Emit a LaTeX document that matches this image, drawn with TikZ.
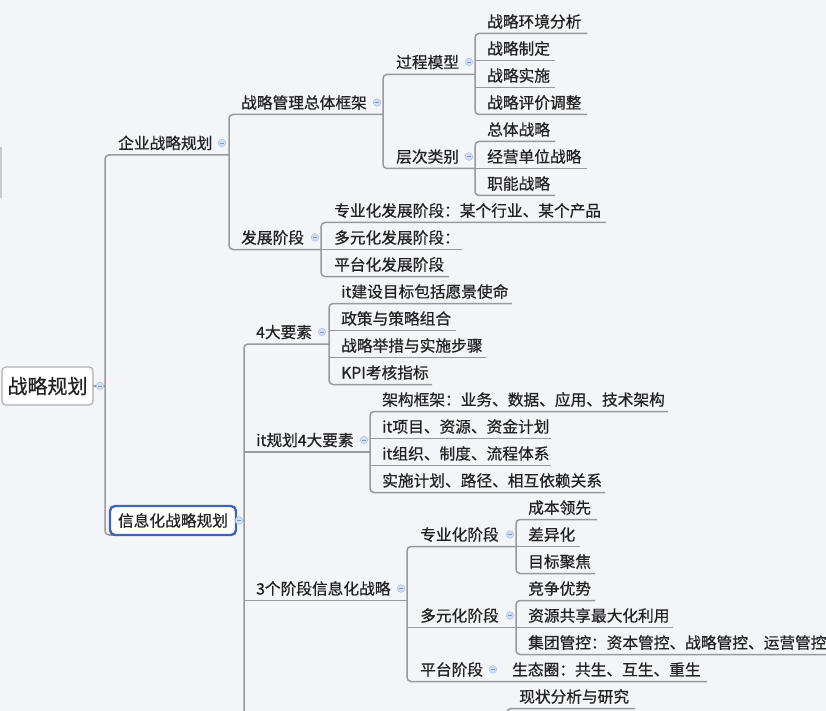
\documentclass[tikz,border=0pt]{standalone}
\usepackage{fontspec}
\setmainfont{Noto Sans CJK SC}[FakeBold=0.6]
\definecolor{bg}{RGB}{244,245,249}
\definecolor{ln}{RGB}{152,152,158}
\definecolor{tx}{RGB}{34,34,34}
\definecolor{icf}{RGB}{210,223,243}
\definecolor{icd}{RGB}{176,198,232}
\definecolor{icm}{RGB}{120,150,205}
\definecolor{selb}{RGB}{62,100,178}
\definecolor{rootb}{RGB}{175,175,180}
\definecolor{edgec}{RGB}{200,200,206}
\newcommand\mmleaf[4]{\node[lbl] (#1) at (#2,27.5+27*#3) {#4};}
\newcommand\mmtopic[4]{\node[lbl] (#1) at (#2,#3+6) {#4};}
\newcommand\mmicon[2]{\fill[icf,draw=icd,line width=0.6pt] (#1,#2) circle (3.8pt);
  \draw[icm,line width=0.9pt] (#1-2.2,#2) -- (#1+2.2,#2);}
\begin{document}
\begin{tikzpicture}[x=1pt,y=-1pt,
  br/.style={draw=ln,line width=1.5pt,rounded corners=4pt},
  lbl/.style={anchor=base west,inner sep=0pt,text=tx,font=\fontsize{15.7pt}{18pt}\selectfont}]
\useasboundingbox (0,0) rectangle (826,711);
\clip (0,0) rectangle (826,711);
\fill[bg] (0,0) rectangle (826,711);
\draw[edgec,line width=1.5pt] (0.8,147) -- (0.8,198);

% ---------- connectors ----------
% root level
\draw[br] (229,155) -- (105,155) -- (105,535) -- (118,535);
\draw[br] (93,386) -- (105,386);
% enterprise branch
\draw[br] (383,114.5) -- (229,114.5) -- (229,249.5) -- (321,249.5);
\draw[br] (475,74.5) -- (383,74.5) -- (383,168.5) -- (475,168.5);
\draw[br] (587,33.5) -- (475,33.5) -- (475,114.5) -- (587,114.5);
\draw[br] (475,60.5) -- (555,60.5);
\draw[br] (475,87.5) -- (555,87.5);
\draw[br] (555,141.5) -- (475,141.5) -- (475,195.5) -- (555,195.5);
\draw[br] (475,168.5) -- (587,168.5);
\draw[br] (606,222.5) -- (321,222.5) -- (321,276.5) -- (449,276.5);
\draw[br] (321,249.5) -- (462,249.5);
% information branch
\draw[br] (236,520.5) -- (244,520.5);
\draw[br] (329,344) -- (244,344) -- (244,730);
\draw[br] (244,452) -- (370,452);
\draw[br] (244,600.5) -- (407,600.5);
\draw[br] (512,303.5) -- (329,303.5) -- (329,384.5) -- (432,384.5);
\draw[br] (329,330.5) -- (456,330.5);
\draw[br] (329,357.5) -- (486,357.5);
\draw[br] (668,411.5) -- (370,411.5) -- (370,492.5) -- (605,492.5);
\draw[br] (370,438.5) -- (551,438.5);
\draw[br] (370,465.5) -- (551,465.5);
\draw[br] (516,546.5) -- (407,546.5) -- (407,681.5) -- (707,681.5);
\draw[br] (407,627.5) -- (516,627.5);
\draw[br] (597,519.5) -- (516,519.5) -- (516,573.5) -- (595,573.5);
\draw[br] (516,546.5) -- (580,546.5);
\draw[br] (595,600.5) -- (516,600.5) -- (516,654.5) -- (850,654.5);
\draw[br] (516,627.5) -- (673,627.5);
\draw[br] (635,708.5) -- (507,708.5) -- (507,730);

% ---------- boxes ----------
\node[draw=rootb,fill=white,rounded corners=4pt,line width=1.2pt,
  minimum width=91pt,minimum height=38pt,inner sep=0pt,text=tx,
  font=\fontsize{20pt}{24pt}\selectfont] (root) at (47.5,386) {战略规划};
\node[draw=selb,fill=white,rounded corners=5pt,line width=2.4pt,
  minimum width=126pt,minimum height=29pt,inner sep=0pt,text=tx,
  font=\fontsize{15.7pt}{18pt}\selectfont] (info) at (173,520.5) {信息化战略规划};

% ---------- topics ----------
\mmtopic{ent}{118}{143}{企业战略规划}
\mmtopic{frame}{241}{102.5}{战略管理总体框架}
\mmtopic{proc}{396}{62}{过程模型}
\mmtopic{level}{396}{156.5}{层次类别}
\mmtopic{dev}{241}{237.5}{发展阶段}
\mmtopic{four}{256}{332}{4大要素}
\mmtopic{itfour}{256}{440}{it规划4大要素}
\mmtopic{three}{256}{588.5}{3个阶段信息化战略}
\mmtopic{spec}{420}{534.5}{专业化阶段}
\mmtopic{div}{420}{615.5}{多元化阶段}
\mmtopic{plat}{420}{669.5}{平台阶段}

% ---------- leaves ----------
\mmleaf{l0}{487}{0}{战略环境分析}
\mmleaf{l1}{487}{1}{战略制定}
\mmleaf{l2}{487}{2}{战略实施}
\mmleaf{l3}{487}{3}{战略评价调整}
\mmleaf{l4}{487}{4}{总体战略}
\mmleaf{l5}{487}{5}{经营单位战略}
\mmleaf{l6}{487}{6}{职能战略}
\mmleaf{l7}{334}{7}{专业化发展阶段：某个行业、某个产品}
\mmleaf{l8}{334}{8}{多元化发展阶段：}
\mmleaf{l9}{334}{9}{平台化发展阶段}
\mmleaf{l10}{341}{10}{it建设目标包括愿景使命}
\mmleaf{l11}{341}{11}{政策与策略组合}
\mmleaf{l12}{341}{12}{战略举措与实施步骤}
\mmleaf{l13}{341}{13}{KPI考核指标}
\mmleaf{l14}{382}{14}{架构框架：业务、数据、应用、技术架构}
\mmleaf{l15}{382}{15}{it项目、资源、资金计划}
\mmleaf{l16}{382}{16}{it组织、制度、流程体系}
\mmleaf{l17}{382}{17}{实施计划、路径、相互依赖关系}
\mmleaf{l18}{528}{18}{成本领先}
\mmleaf{l19}{528}{19}{差异化}
\mmleaf{l20}{528}{20}{目标聚焦}
\mmleaf{l21}{528}{21}{竞争优势}
\mmleaf{l22}{528}{22}{资源共享最大化利用}
\mmleaf{l23}{528}{23}{集团管控：资本管控、战略管控、运营管控}
\mmleaf{l24}{512}{24}{生态圈：共生、互生、重生}
\mmleaf{l25}{519}{25}{现状分析与研究}

% ---------- collapse icons ----------
\mmicon{100}{386}
\mmicon{239}{520.5}
\mmicon{222}{143}
\mmicon{377}{102.5}
\mmicon{469}{62}
\mmicon{469}{156.5}
\mmicon{315}{237.5}
\mmicon{322}{332}
\mmicon{364}{440}
\mmicon{401}{588.5}
\mmicon{510}{534.5}
\mmicon{510}{615.5}
\mmicon{493}{669.5}
\end{tikzpicture}
\end{document}
